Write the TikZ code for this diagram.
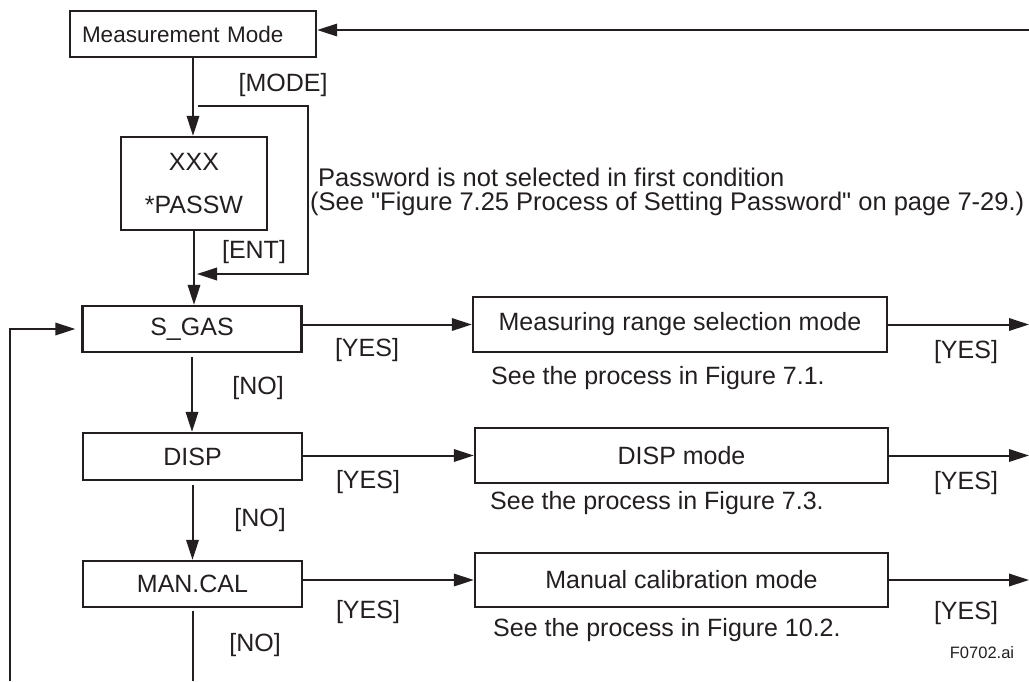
\documentclass[tikz,border=0pt]{standalone}
\usepackage{fontspec}
\setmainfont{Liberation Sans}
\usetikzlibrary{arrows.meta}
\definecolor{ink}{RGB}{35,31,32}
\begin{document}
\begin{tikzpicture}[x=1pt,y=-1pt,
  every node/.style={font=\fontsize{25}{28}\selectfont, text=ink, inner sep=0pt},
  box/.style={draw=ink, line width=2.4pt},
  link/.style={draw=ink, line width=2pt},
  arr/.style={link, -{Triangle[length=20pt,width=12.5pt]}}]
\useasboundingbox (0,0) rectangle (1029,681);

\node[box, minimum width=246pt, minimum height=46pt, text width=222pt, inner xsep=12pt, align=left, font=\fontsize{22.5}{26}\selectfont] (mm) at (193,34) {Measurement Mode};
\node[box, minimum width=146pt, minimum height=93pt, align=center] (xxx) at (194,183.5) {XXX\\[15pt]*PASSW};
\node[box, minimum width=219pt, minimum height=46pt] (sgas) at (192,329) {S\_GAS};
\node[box, minimum width=219pt, minimum height=47pt] (disp) at (192.5,456.5) {DISP};
\node[box, minimum width=219pt, minimum height=46pt] (mancal) at (192.5,584) {MAN.CAL};
\node[box, minimum width=414pt, minimum height=55pt] (mrs) at (680,324.5) {Measuring range selection mode};
\node[box, minimum width=413pt, minimum height=55pt] (dispm) at (681.5,455.5) {DISP mode};
\node[box, minimum width=413pt, minimum height=54pt] (mcal) at (681.5,580) {Manual calibration mode};

\node[anchor=west, align=left, font=\fontsize{25.5}{24.5}\selectfont] (pw) at (310,192) {\hspace*{8pt}Password is not selected in first condition\\(See \textquotedbl Figure 7.25 Process of Setting Password\textquotedbl{} on page 7-29.)};
\node[anchor=west] (see1) at (491,378) {See the process in Figure 7.1.};
\node[anchor=west] (see2) at (490,503) {See the process in Figure 7.3.};
\node[anchor=west] (see3) at (493,630) {See the process in Figure 10.2.};

\node (kmode) at (283,85) {[MODE]};
\node (kent) at (254,252) {[ENT]};
\node (yes1) at (367,350) {[YES]};
\node (yes2) at (368,482) {[YES]};
\node (yes3) at (368,612) {[YES]};
\node (no1) at (258,388) {[NO]};
\node (no2) at (260,520) {[NO]};
\node (no3) at (255,645) {[NO]};
\node (yes4) at (966,352) {[YES]};
\node (yes5) at (966,483) {[YES]};
\node (yes6) at (966,613) {[YES]};
\node[font=\fontsize{16.5}{19}\selectfont] (fig) at (982,653) {F0702.ai};

\coordinate (tin) at (1029,30);
\coordinate (byp) at (198,106);
\coordinate (ent) at (197,274);
\coordinate (lbot) at (10,681);

\draw[arr] (tin) -- (tin -| mm.east);
\draw[arr] (mm.south) -- (mm.south |- xxx.north);
\draw[arr] (byp) -- ++(110,0) |- (ent);
\draw[arr] (xxx.south) -- (xxx.south |- sgas.north);
\draw[arr, shorten >=6pt] (lbot) |- (sgas.west);

\draw[arr] (sgas.east |- mrs.west) -- (mrs.west);
\draw[arr] (mrs.east) -- (mrs.east -| tin);
\draw[arr, shorten <=4pt] (sgas.south) -- (sgas.south |- disp.north);
\draw[arr] (disp.east |- dispm.west) -- (dispm.west);
\draw[arr] (dispm.east) -- (dispm.east -| tin);
\draw[arr, shorten <=4pt] (disp.south) -- (disp.south |- mancal.north);
\draw[arr] (mancal.east |- mcal.west) -- (mcal.west);
\draw[arr] (mcal.east) -- (mcal.east -| tin);
\draw[link, shorten <=3pt] (mancal.south) -- (mancal.south |- lbot);
\end{tikzpicture}
\end{document}
